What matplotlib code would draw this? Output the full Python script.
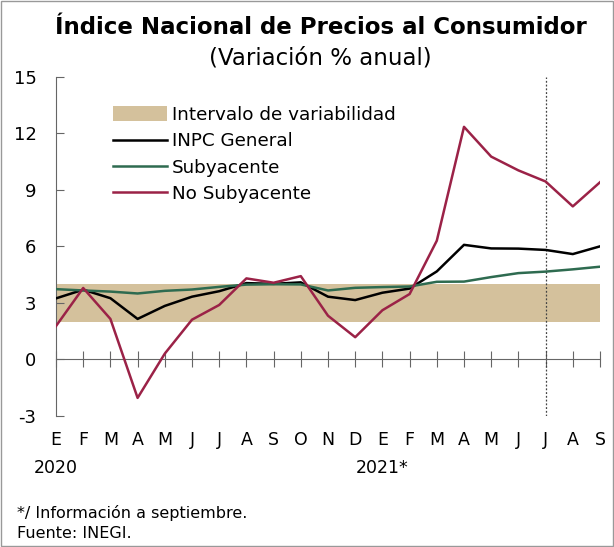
import matplotlib.pyplot as plt
import matplotlib.transforms as mtransforms
from matplotlib.patches import Patch
from matplotlib.lines import Line2D

# data
months = ["E", "F", "M", "A", "M", "J", "J", "A", "S", "O", "N", "D",
          "E", "F", "M", "A", "M", "J", "J", "A", "S"]
years = ["2020", "2021*"]
year_pos = [0, 12]
inpc = [3.24, 3.70, 3.25, 2.15, 2.84, 3.33, 3.62, 4.05, 4.01, 4.09, 3.33, 3.15,
        3.54, 3.76, 4.67, 6.08, 5.89, 5.88, 5.81, 5.59, 6.00]
subyacente = [3.73, 3.66, 3.60, 3.50, 3.64, 3.71, 3.85, 3.97, 3.99, 3.98, 3.66, 3.80,
              3.84, 3.87, 4.12, 4.13, 4.37, 4.58, 4.66, 4.78, 4.92]
no_subyacente = [1.77, 3.79, 2.15, -2.04, 0.31, 2.11, 2.89, 4.30, 4.07, 4.42, 2.32, 1.18,
                 2.61, 3.47, 6.30, 12.34, 10.76, 10.03, 9.44, 8.12, 9.40]
band_low, band_high = 2, 4
cut_month = 18
yticks = [-3, 0, 3, 6, 9, 12, 15]

c_band = "#d4c19c"
c_inpc = "#000000"
c_sub = "#2e6b50"
c_nosub = "#9b2247"

plt.rcParams['font.family'] = ['DejaVu Sans']

fig = plt.figure(figsize=(6.14, 5.47), dpi=100)
ax = fig.add_axes([56 / 614, 1 - 416 / 547, 544 / 614, 339.3 / 547])

x = list(range(len(months)))
ax.axhspan(band_low, band_high, xmin=0, xmax=1, color=c_band, lw=0, zorder=1)
ax.plot(x, inpc, color=c_inpc, lw=1.8, zorder=3)
ax.plot(x, subyacente, color=c_sub, lw=1.8, zorder=3)
ax.plot(x, no_subyacente, color=c_nosub, lw=1.8, zorder=4)
ax.axvline(cut_month, color="#444444", lw=0.9, ls=(0, (1.5, 1.5)), zorder=2)

ax.set_xlim(0, 20)
ax.set_ylim(-3, 15)

for s in ["top", "right"]:
    ax.spines[s].set_visible(False)
ax.spines["left"].set_color("#666666")
ax.spines["bottom"].set_position(("data", 0))
ax.spines["bottom"].set_color("#666666")

ax.set_yticks(yticks)
ax.set_yticklabels([str(v) for v in yticks])
ax.tick_params(axis="y", direction="in", length=6, color="#666666", labelsize=13, pad=14)
ax.set_xticks(x)
ax.set_xticklabels([])
ax.tick_params(axis="x", direction="inout", length=12, color="#666666")

tr = mtransforms.blended_transform_factory(ax.transData, fig.transFigure)
for i, m in enumerate(months):
    ax.text(i, 1 - 440 / 547, m, transform=tr, ha="center", va="center", fontsize=12.5)
for p, yr in zip(year_pos, years):
    ax.text(p, 1 - 468 / 547, yr, transform=tr, ha="center", va="center", fontsize=12.5)

fig.text(321 / 614, 1 - 27 / 547, "Índice Nacional de Precios al Consumidor",
         ha="center", va="center", fontsize=16.5, fontweight="bold")
fig.text(320 / 614, 1 - 58 / 547, "(Variación % anual)",
         ha="center", va="center", fontsize=16.5)

handles = [Patch(facecolor=c_band, edgecolor="none"),
           Line2D([], [], color=c_inpc, lw=1.8),
           Line2D([], [], color=c_sub, lw=1.8),
           Line2D([], [], color=c_nosub, lw=1.8)]
labels = ["Intervalo de variabilidad", "INPC General", "Subyacente", "No Subyacente"]
leg = ax.legend(handles, labels, loc="upper left", bbox_to_anchor=(0.092, 0.935),
                frameon=False, fontsize=13.2, handlelength=2.9, handleheight=0.85,
                handletextpad=0.3, labelspacing=0.45, borderaxespad=0)

fig.text(17 / 614, 1 - 513 / 547, "*/ Información a septiembre.", ha="left", va="center", fontsize=11.5)
fig.text(17 / 614, 1 - 533 / 547, "Fuente: INEGI.", ha="left", va="center", fontsize=11.5)

fig.patches.append(plt.Rectangle((0.002, 0.002), 0.996, 0.996, transform=fig.transFigure,
                                 fill=False, edgecolor="#999999", lw=1))

fig.savefig("out.png", dpi=100)
